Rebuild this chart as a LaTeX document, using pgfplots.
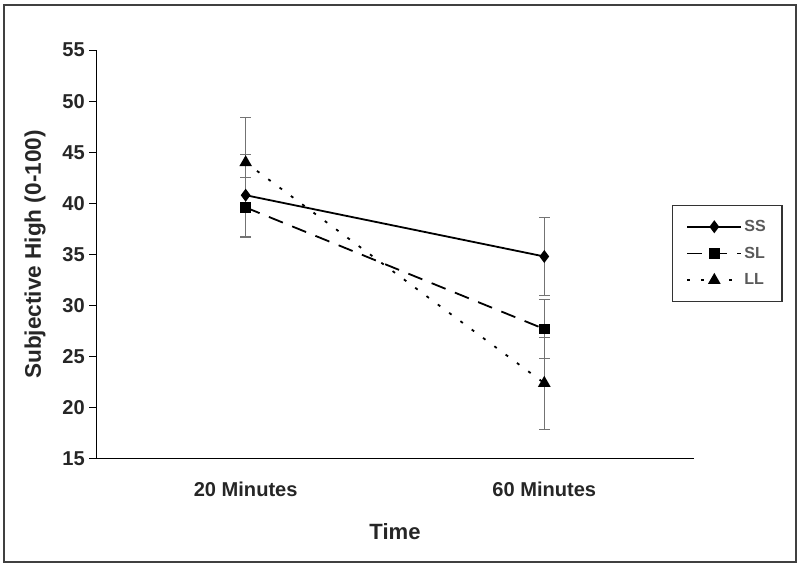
\documentclass[border=0pt]{standalone}
\usepackage{pgfplots}
\pgfplotsset{compat=1.18}
\usepackage{fontspec}
\setmainfont{Liberation Sans}

\begin{document}
\begin{tikzpicture}
\begin{axis}[
    name=ax,
    scale only axis,
    width=595bp, height=407bp,
    xmin=-0.5, xmax=1.5,
    ymin=15, ymax=55,
    axis x line*=bottom,
    axis y line*=left,
    axis line style={line width=1.2bp},
    xtick={0,1},
    xticklabels={20 Minutes,60 Minutes},
    major x tick style={draw=none},
    extra x ticks={-0.5,0.5,1.5},
    extra x tick labels={},
    extra x tick style={tick style={draw=black,line width=1.2bp}, tick align=outside, major tick length=7bp},
    ytick={15,20,...,55},
    tick align=outside,
    major tick length=7bp,
    tick style={line width=1.2bp, black},
    /pgf/number format/assume math mode=true,
    ticklabel style={font=\bfseries\fontsize{20bp}{24bp}\selectfont, text=black!85},
    yticklabel style={xshift=-1bp},
    xticklabel style={yshift=-13bp},
    xlabel={Time},
    ylabel={Subjective High (0-100)},
    xlabel style={font=\bfseries\fontsize{22bp}{26bp}\selectfont, text=black!85, at={(axis description cs:0.5,-0.179)}, anchor=center},
    ylabel style={font=\bfseries\fontsize{22.5bp}{26bp}\selectfont, text=black!85, at={(axis description cs:-0.1025,0.5)}, anchor=center},
    legend style={at={(rel axis cs:0.963,0.622)}, anchor=north west,
        draw=black!80, line width=1.5bp, inner xsep=14bp, inner ysep=13bp,
        font=\bfseries\fontsize{16bp}{18bp}\selectfont, text=black!65,
        row sep=10bp},
    legend cell align=left,
    legend image code/.code={
        \draw[#1, line width=1.8bp, mark repeat=2, mark phase=2] plot coordinates {(0,0) (27bp,0) (54bp,0)};
    },
    clip=false,
    error bars/error bar style={black!55, line width=1bp, solid},
    error bars/error mark options={rotate=90, mark size=5.5bp, black!55, line width=1bp, solid},
]

% SS
\addplot[black, line width=1.8bp, solid, mark=diamond*, mark size=5bp, mark options={solid, fill=black},
    error bars/.cd, y dir=both, y explicit]
    coordinates {(0,40.8) +- (0,4.0) (1,34.8) +- (0,3.8)};
\addlegendentry{SS}

% SL
\addplot[black, line width=1.8bp, dash pattern=on 15bp off 10bp, mark=square*, mark size=4.5bp, mark options={solid, fill=black},
    error bars/.cd, y dir=both, y explicit]
    coordinates {(0,39.6) +- (0,2.9) (1,27.7) +- (0,2.9)};
\addlegendentry{SL}

% LL
\addplot[black, line width=1.8bp, dash pattern=on 3bp off 11bp, mark=triangle*, mark size=5.5bp, mark options={solid, fill=black},
    error bars/.cd, y dir=both, y explicit]
    coordinates {(0,44.0) +- (0,4.4) (1,22.4) +- (0,4.5)};
\addlegendentry{LL}

\end{axis}
\draw[line width=1.8bp, black!75]
    ([xshift=-92bp,yshift=-103bp]ax.south west) rectangle ([xshift=102bp,yshift=45bp]ax.north east);
\path ([xshift=-96bp,yshift=-108bp]ax.south west) rectangle ([xshift=106bp,yshift=50bp]ax.north east);
\end{tikzpicture}
\end{document}
